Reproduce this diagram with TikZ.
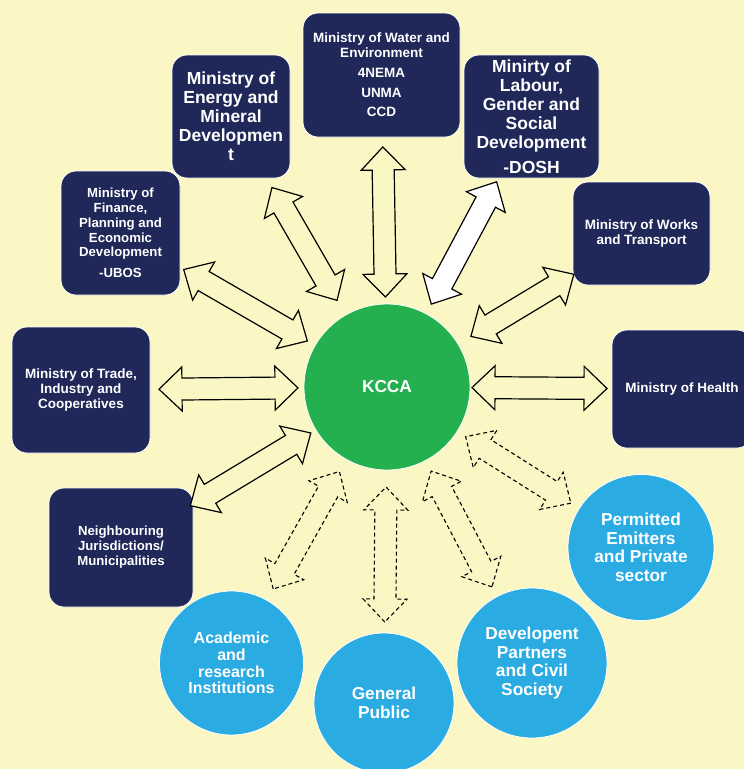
\documentclass[tikz,border=0pt]{standalone}
\usepackage{fontspec}
\setmainfont{Liberation Sans}
\usetikzlibrary{calc}
\usepackage{xcolor}
\definecolor{paper}{HTML}{FBF7C5}
\definecolor{navy}{HTML}{1F2859}
\definecolor{hubgreen}{HTML}{24B04F}
\definecolor{skyblue}{HTML}{2AABE2}
\tikzset{
    ministry/.style={
        rectangle, rounded corners=15pt, fill=navy, draw=white, line width=0.8pt,
        text=white, align=center, inner sep=0pt, font=\fontsize{13.5}{14.8}\selectfont\bfseries
    },
    bigministry/.style={
        ministry, font=\fontsize{17.5}{19}\selectfont\bfseries
    },
    partner/.style={
        circle, fill=skyblue, draw=white, line width=0.8pt, text=white,
        align=center, inner sep=0pt, font=\fontsize{17.3}{18.6}\selectfont\bfseries
    },
    hub/.style={
        circle, fill=hubgreen, draw=white, line width=0.8pt, text=white,
        inner sep=0pt, font=\fontsize{17.3}{19}\selectfont\bfseries
    },
    link/.style={
        draw=black, line width=1.2pt, fill=paper, line join=miter
    },
    keylink/.style={
        link, fill=white
    },
    softlink/.style={
        draw=black, line width=1.1pt, dash pattern=on 4pt off 3pt
    }
}
% double block arrow between two nodes; #4/#5 = tip distance from each centre
\newcommand{\linkarrow}[5][link]{%
    \path[#1] let \p1=($(#2)!#4!(#3)$), \p2=($(#3)!#5!(#2)$),
                  \n1={atan2(\y2-\y1,\x2-\x1)} in
        (\p1)
        -- ($(\p1)+(\n1:23pt)+(\n1+90:22pt)$)
        -- ($(\p1)+(\n1:23pt)+(\n1+90:11pt)$)
        -- ($(\p2)+(\n1:-23pt)+(\n1+90:11pt)$)
        -- ($(\p2)+(\n1:-23pt)+(\n1+90:22pt)$)
        -- (\p2)
        -- ($(\p2)+(\n1:-23pt)+(\n1-90:22pt)$)
        -- ($(\p2)+(\n1:-23pt)+(\n1-90:11pt)$)
        -- ($(\p1)+(\n1:23pt)+(\n1-90:11pt)$)
        -- ($(\p1)+(\n1:23pt)+(\n1-90:22pt)$)
        -- cycle;
}

\begin{document}
\begin{tikzpicture}[x=1pt, y=1pt]

    % ── Background ──
    \useasboundingbox (0,0) rectangle (744,-769);
    \fill[paper] (0,0) rectangle (744,-769);

    % ── Centre ──
    \node[hub, minimum size=166pt] (kcca) at (387,-387) {KCCA};

    % ── Ministries ──
    \node[ministry, minimum width=157pt, minimum height=124pt] (water) at (381.5,-75)
        {Ministry of Water and\\Environment\\[5pt]4NEMA\\[5pt]UNMA\\[5pt]CCD};
    \node[bigministry, minimum width=118pt, minimum height=123pt] (energy) at (231,-116.5)
        {Ministry of\\Energy and\\Mineral\\Developmen\\t};
    \node[bigministry, minimum width=135pt, minimum height=123pt] (labour) at (531.5,-116.5)
        {Minirty of\\Labour,\\Gender and\\Social\\Development\\[6pt]-DOSH};
    \node[ministry, minimum width=137pt, minimum height=103pt] (works) at (641.5,-233.5)
        {Ministry of Works\\and Transport};
    \node[ministry, minimum width=119pt, minimum height=124pt, font=\fontsize{13.2}{14.8}\selectfont\bfseries] (finance) at (120.5,-233)
        {Ministry of\\Finance,\\Planning and\\Economic\\Development\\[6pt]-UBOS};
    \node[ministry, minimum width=138pt, minimum height=126pt] (trade) at (81,-390)
        {Ministry of Trade,\\Industry and\\Cooperatives};
    \node[ministry, minimum width=140pt, minimum height=118pt] (health) at (682,-389)
        {Ministry of Health};
    \node[ministry, minimum width=144pt, minimum height=119pt, font=\fontsize{13.2}{15}\selectfont\bfseries] (neighbour) at (121,-547.5)
        {Neighbouring\\Jurisdictions/\\Municipalities};

    % ── Other partners ──
    \node[partner, minimum size=144pt, font=\fontsize{16}{16.7}\selectfont\bfseries] (academic) at (231.5,-663)
        {Academic\\and\\research\\Institutions};
    \node[partner, minimum size=140pt, font=\fontsize{17.3}{19}\selectfont\bfseries] (public) at (384,-703)
        {General\\Public};
    \node[partner, minimum size=150pt] (donors) at (532,-663)
        {Developent\\Partners\\and Civil\\Society};
    \node[partner, minimum size=146pt] (emitters) at (641,-547.5)
        {Permitted\\Emitters\\and Private\\sector};

    % ── Arrows ──
    \linkarrow{water}{kcca}{72pt}{90pt}
    \linkarrow{energy}{kcca}{82pt}{100pt}
    \linkarrow[keylink]{labour}{kcca}{74pt}{94pt}
    \linkarrow{works}{kcca}{79pt}{98pt}
    \linkarrow{health}{kcca}{75pt}{85pt}
    \linkarrow{finance}{kcca}{73pt}{92pt}
    \linkarrow{trade}{kcca}{78pt}{89pt}
    \linkarrow{neighbour}{kcca}{81pt}{89pt}
    \linkarrow[softlink]{academic}{kcca}{85pt}{97pt}
    \linkarrow[softlink]{public}{kcca}{81pt}{100pt}
    \linkarrow[softlink]{donors}{kcca}{86pt}{95pt}
    \linkarrow[softlink]{emitters}{kcca}{83pt}{93pt}

\end{tikzpicture}
\end{document}
